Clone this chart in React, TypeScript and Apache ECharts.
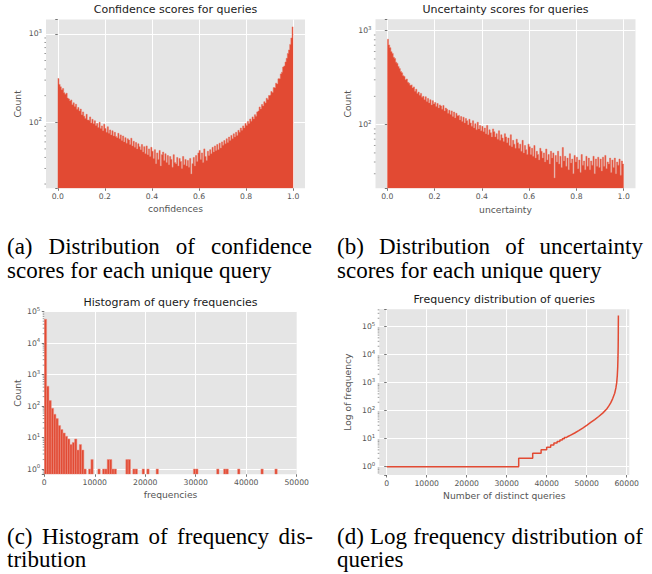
import React, { useEffect, useRef } from "react";
import * as echarts from "echarts";

// ---------------- data ----------------
const CONF_BIN_WIDTH = 0.005;
const confidenceCounts = [
  312, 268, 252, 233, 241, 216, 207, 213, 188, 184,
  174, 179, 158, 166, 151, 160, 140, 147, 134, 141,
  122, 131, 117, 110, 123, 106, 105, 115, 98, 108,
  96, 104, 92, 97, 87, 100, 85, 91, 80, 95,
  85, 77, 89, 75, 82, 72, 80, 70, 77, 69,
  67, 75, 65, 72, 62, 70, 60, 67, 58, 65,
  63, 56, 66, 54, 61, 52, 59, 50, 57, 53,
  49, 56, 46, 53, 44, 54, 43, 50, 41, 52,
  47, 39, 49, 34, 45, 38, 48, 32, 43, 46,
  37, 44, 35, 42, 33, 41, 38, 31, 43, 35,
  34, 40, 32, 39, 36, 30, 41, 33, 38, 32,
  37, 31, 39, 26, 34, 40, 32, 42, 36, 45,
  48, 38, 45, 35, 50, 41, 37, 47, 42, 49,
  44, 52, 46, 54, 48, 56, 49, 58, 51, 60,
  55, 62, 57, 65, 59, 68, 62, 71, 65, 74,
  68, 77, 71, 81, 77, 86, 81, 91, 86, 97,
  92, 102, 97, 109, 103, 115, 109, 122, 117, 131,
  134, 149, 141, 159, 153, 171, 165, 187, 181, 201,
  204, 223, 217, 247, 244, 277, 271, 311, 311, 353,
  369, 421, 434, 481, 529, 601, 659, 761, 899, 1200,
];

const UNC_BIN_WIDTH = 0.005;
const uncertaintyCounts = [
  810, 705, 660, 598, 572, 520, 505, 462, 448, 415,
  395, 368, 356, 332, 326, 300, 306, 282, 276, 262,
  265, 246, 252, 226, 238, 214, 222, 205, 215, 196,
  200, 184, 198, 176, 190, 170, 184, 162, 180, 166,
  172, 156, 168, 150, 162, 158, 146, 160, 140, 150,
  146, 132, 142, 128, 140, 122, 136, 118, 132, 124,
  126, 112, 122, 108, 120, 104, 116, 110, 100, 114,
  104, 96, 110, 92, 102, 88, 106, 90, 98, 86,
  96, 84, 92, 80, 98, 78, 88, 82, 74, 90,
  84, 74, 80, 70, 86, 68, 78, 72, 66, 80,
  74, 64, 72, 60, 78, 58, 68, 62, 56, 70,
  64, 56, 62, 52, 68, 50, 60, 54, 48, 62,
  58, 48, 56, 46, 60, 44, 52, 48, 42, 56,
  52, 44, 50, 40, 55, 42, 48, 38, 52, 44,
  50, 27, 47, 40, 52, 38, 46, 35, 57, 41,
  46, 36, 44, 33, 49, 39, 43, 30, 47, 40,
  45, 34, 42, 31, 48, 37, 41, 33, 46, 36,
  44, 33, 41, 37, 46, 30, 43, 36, 45, 35,
  43, 32, 45, 36, 47, 34, 40, 38, 44, 31,
  42, 35, 44, 30, 40, 37, 43, 29, 41, 38,
];

const FREQ_BIN_WIDTH = 461.4;
const freqBinIndex = [
  0, 1, 2, 3, 4, 5, 6, 7, 8, 9, 10, 11, 12, 13, 14, 15, 16,
  17, 19, 20, 23, 25, 26, 27, 28, 29, 30, 35, 36, 38, 39, 42, 44, 48,
  64, 65, 74, 77, 78, 83, 93, 99,
];
const freqBinCount = [
  57600, 430, 150, 85, 55, 40, 24, 18, 14, 11, 9, 6, 7, 9, 4, 6, 4,
  1, 1, 2, 1, 1, 1, 2, 2, 1, 1, 2, 2, 1, 1, 1, 1, 1,
  1, 1, 1, 1, 1, 1, 1, 1,
];

// rank (number of distinct queries) vs frequency, step-like curve
const rankX = [
  0, 33000, 33000, 36500, 36500, 38600, 38600, 40000, 40000, 41000, 41000,
  41800, 41800, 42600, 42600, 43300, 43300, 43900, 43900, 44400, 44400,
  44900, 45300, 46000, 47000, 48000, 49000, 50000, 51000, 52000, 53000,
  54000, 55000, 55500, 56000, 56500, 57000, 57300, 57500, 57650, 57750,
  57820, 57870, 57900, 57920,
];
const rankFreq = [
  1, 1, 2, 2, 3, 3, 4, 4, 5, 5, 6,
  6, 7, 7, 8, 8, 9, 9, 10, 10, 11,
  11, 12, 13.5, 16, 19.5, 24, 30, 38, 48, 62,
  82, 115, 145, 190, 270, 420, 650, 1000, 1800, 3500,
  8000, 20000, 60000, 250000,
];

const unitTicks = ["0.0", "0.2", "0.4", "0.6", "0.8", "1.0"];

// ---------------- styles ----------------
const BAR = "#E24A33";
const BG = "#E5E5E5";
const TICK = "#555555";
const SANS = "DejaVu Sans";
const TICK_FS = 7.7;
const LABEL_FS = 9.2;
const TITLE_FS = 11;

const GRIDS = [
  { left: 46, top: 19.5, width: 259, height: 168.8 },
  { left: 375.5, top: 19.3, width: 260, height: 169 },
  { left: 44.3, top: 311.7, width: 252.4, height: 162.6 },
  { left: 379.3, top: 309.3, width: 250, height: 165.7 },
];

const X_RANGES = [
  [-0.05, 1.05],
  [-0.05, 1.05],
  [0, 50000],
  [-1850, 60650],
];
const Y_RANGES = [
  [17.9, 1456],
  [21, 1322],
  [0.68, 100100],
  [0.506, 416900],
];

const TITLES = [
  "Confidence scores for queries",
  "Uncertainty scores for queries",
  "Histogram of query frequencies",
  "Frequency distribution of queries",
];
const TITLE_Y = [11, 11, 304, 301];
const X_NAMES = ["confidences", "uncertainty", "frequencies", "Number of distinct queries"];
const Y_NAMES = ["Count", "Count", "Count", "Log of frequency"];
const X_NAME_GAP = [16, 16.5, 16, 15.5];
const Y_NAME_GAP = [24, 24, 22.5, 27.5];

const CAPTIONS = [
  { x0: 7, x1: 312, y1: 246, y2: 270, line1: "(a) Distribution of confidence", line2: "scores for each unique query" },
  { x0: 337, x1: 643, y1: 246, y2: 270, line1: "(b) Distribution of uncertainty", line2: "scores for each unique query" },
  { x0: 7, x1: 313, y1: 536, y2: 559, line1: "(c) Histogram of frequency dis-", line2: "tribution" },
  { x0: 337, x1: 643, y1: 536, y2: 559, line1: "(d) Log frequency distribution of", line2: "queries" },
];
const CAP_FONT = "Liberation Serif";
const CAP_FS = 23;

function logLabel(v: number) {
  const e = Math.round(Math.log10(v));
  if (Math.abs(Math.log10(v) - e) > 0.01) return "";
  return `{b|10}{e|${e}}`;
}

function minorValues(min: number, max: number) {
  const out: number[] = [];
  for (let d = -1; d <= 6; d++) {
    for (let m = 2; m <= 9; m++) {
      const v = m * Math.pow(10, d);
      if (v > min && v < max) out.push(v);
    }
  }
  return out;
}

function justify(text: string, x0: number, x1: number, font: string) {
  const ctx = document.createElement("canvas").getContext("2d")!;
  ctx.font = font;
  const words = text.split(" ");
  const widths = words.map((w) => ctx.measureText(w).width);
  const total = widths.reduce((a, b) => a + b, 0);
  const space = ctx.measureText(" ").width;
  let gap = (x1 - x0 - total) / (words.length - 1);
  if (gap < space) gap = space;
  const pos: { word: string; x: number }[] = [];
  let x = x0;
  words.forEach((w, i) => {
    pos.push({ word: w, x });
    x += widths[i] + gap;
  });
  return pos;
}

// histogram as a step outline: left edges + closing right edge
function stepData(counts: number[], width: number) {
  const pts = counts.map((c, i) => [i * width, c]);
  pts.push([counts.length * width, counts[counts.length - 1]]);
  return pts;
}

export default function App() {
  const ref = useRef<HTMLDivElement>(null);

  useEffect(() => {
    if (!ref.current) return;
    const chart = echarts.init(ref.current, undefined, { renderer: "svg" });

    const freqBins = freqBinIndex.map((b, i) => [b * FREQ_BIN_WIDTH, (b + 1) * FREQ_BIN_WIDTH, freqBinCount[i]]);
    const rankData = rankX.map((x, i) => [x, rankFreq[i]]);

    const stepHist = (idx: number, data: number[][]) => ({
      type: "line",
      xAxisIndex: idx,
      yAxisIndex: idx,
      data,
      step: "end",
      symbol: "none",
      showSymbol: false,
      silent: true,
      z: 3,
      lineStyle: { color: "#E86A57", width: 0.5 },
      areaStyle: { color: BAR, opacity: 1, origin: "start" },
    });

    const rectHist = (idx: number, data: number[][], stroke: string) => ({
      type: "custom",
      xAxisIndex: idx,
      yAxisIndex: idx,
      data,
      encode: { x: [0, 1], y: 2 },
      clip: true,
      silent: true,
      z: 3,
      renderItem: (params: any, api: any) => {
        const top = api.coord([api.value(0), api.value(2)]);
        const bot = api.coord([api.value(1), Y_RANGES[idx][0]]);
        return {
          type: "rect",
          shape: { x: top[0], y: top[1], width: bot[0] - top[0], height: bot[1] - top[1] },
          style: { fill: BAR, stroke, lineWidth: 0.5 },
        };
      },
    });

    const minorSeries = (idx: number) => ({
      type: "custom",
      xAxisIndex: idx,
      yAxisIndex: idx,
      data: minorValues(Y_RANGES[idx][0], Y_RANGES[idx][1]).map((v) => [X_RANGES[idx][0], v]),
      encode: { x: 0, y: 1 },
      clip: false,
      silent: true,
      z: 4,
      renderItem: (params: any, api: any) => {
        const p = api.coord([api.value(0), api.value(1)]);
        return {
          type: "line",
          shape: { x1: p[0] - 1.6, y1: p[1], x2: p[0], y2: p[1] },
          style: { stroke: TICK, lineWidth: 0.6 },
        };
      },
    });

    const xAxis = [0, 1, 2, 3].map((i) => ({
      type: "value",
      gridIndex: i,
      min: X_RANGES[i][0],
      max: X_RANGES[i][1],
      ...(i === 2 ? { interval: 10000 } : i === 3 ? { minInterval: 10000, maxInterval: 10000 } : { minInterval: 0.2, maxInterval: 0.2 }),
      name: X_NAMES[i],
      nameLocation: "middle",
      nameGap: X_NAME_GAP[i],
      nameTextStyle: { fontFamily: SANS, fontSize: LABEL_FS, color: TICK },
      axisLine: { show: false },
      axisTick: { show: true, length: 2.5, lineStyle: { color: TICK, width: 0.8 } },
      axisLabel: {
        fontFamily: SANS,
        fontSize: TICK_FS,
        color: TICK,
        margin: 4.5,
        showMinLabel: i === 2,
        showMaxLabel: i === 2,
        formatter: (v: number) => {
          if (i < 2) {
            const k = Math.round(v * 5);
            if (Math.abs(v * 5 - k) > 1e-6 || k < 0 || k > 5) return "";
            return unitTicks[k];
          }
          if (Math.abs(v / 10000 - Math.round(v / 10000)) > 1e-6) return "";
          return String(Math.round(v));
        },
      },
      splitLine: { show: true, showMinLine: false, showMaxLine: false, lineStyle: { color: "#FFFFFF", width: 1 } },
    }));

    const yAxis = [0, 1, 2, 3].map((i) => ({
      type: "log",
      logBase: 10,
      gridIndex: i,
      min: Y_RANGES[i][0],
      max: Y_RANGES[i][1],
      name: Y_NAMES[i],
      nameLocation: "middle",
      nameGap: Y_NAME_GAP[i],
      nameTextStyle: { fontFamily: SANS, fontSize: LABEL_FS, color: TICK },
      axisLine: { show: false },
      axisTick: { show: true, length: 2.5, lineStyle: { color: TICK, width: 0.8 } },
      axisLabel: {
        margin: 4,
        formatter: logLabel,
        rich: {
          b: { fontFamily: SANS, fontSize: TICK_FS, color: TICK, lineHeight: 11 },
          e: { fontFamily: SANS, fontSize: 5.4, color: TICK, lineHeight: 6, verticalAlign: "top" },
        },
      },
      splitLine: { show: true, showMinLine: false, showMaxLine: false, lineStyle: { color: "#FFFFFF", width: 1 } },
    }));

    const graphics: any[] = [];
    CAPTIONS.forEach((c) => {
      justify(c.line1, c.x0, c.x1, `${CAP_FS}px "${CAP_FONT}"`).forEach((w) => {
        graphics.push({
          type: "text",
          x: w.x,
          y: c.y1,
          style: { text: w.word, font: `${CAP_FS}px "${CAP_FONT}"`, fill: "#000", verticalAlign: "middle", align: "left" },
        });
      });
      graphics.push({
        type: "text",
        x: c.x0,
        y: c.y2,
        style: { text: c.line2, font: `${CAP_FS}px "${CAP_FONT}"`, fill: "#000", verticalAlign: "middle", align: "left" },
      });
    });

    chart.setOption({
      animation: false,
      backgroundColor: "#FFFFFF",
      title: GRIDS.map((g, i) => ({
        text: TITLES[i],
        left: g.left + g.width / 2,
        top: TITLE_Y[i] - 7,
        textAlign: "center",
        padding: 0,
        textStyle: { fontFamily: SANS, fontSize: TITLE_FS, fontWeight: "normal", color: "#1a1a1a" },
      })),
      grid: GRIDS.map((g) => ({
        ...g,
        show: true,
        backgroundColor: BG,
        borderWidth: 0,
        containLabel: false,
        outerBoundsMode: "none",
      })),
      xAxis,
      yAxis,
      series: [
        stepHist(0, stepData(confidenceCounts, CONF_BIN_WIDTH)),
        stepHist(1, stepData(uncertaintyCounts, UNC_BIN_WIDTH)),
        rectHist(2, freqBins, "#EC8E80"),
        {
          type: "line",
          xAxisIndex: 3,
          yAxisIndex: 3,
          data: rankData,
          showSymbol: false,
          symbol: "none",
          silent: true,
          z: 3,
          lineStyle: { color: BAR, width: 1.5 },
        },
        minorSeries(0),
        minorSeries(1),
        minorSeries(2),
        minorSeries(3),
      ],
      graphic: graphics,
    });

    return () => chart.dispose();
  }, []);

  return <div ref={ref} style={{ position: "absolute", left: 0, top: 0, width: 652, height: 574 }} />;
}
